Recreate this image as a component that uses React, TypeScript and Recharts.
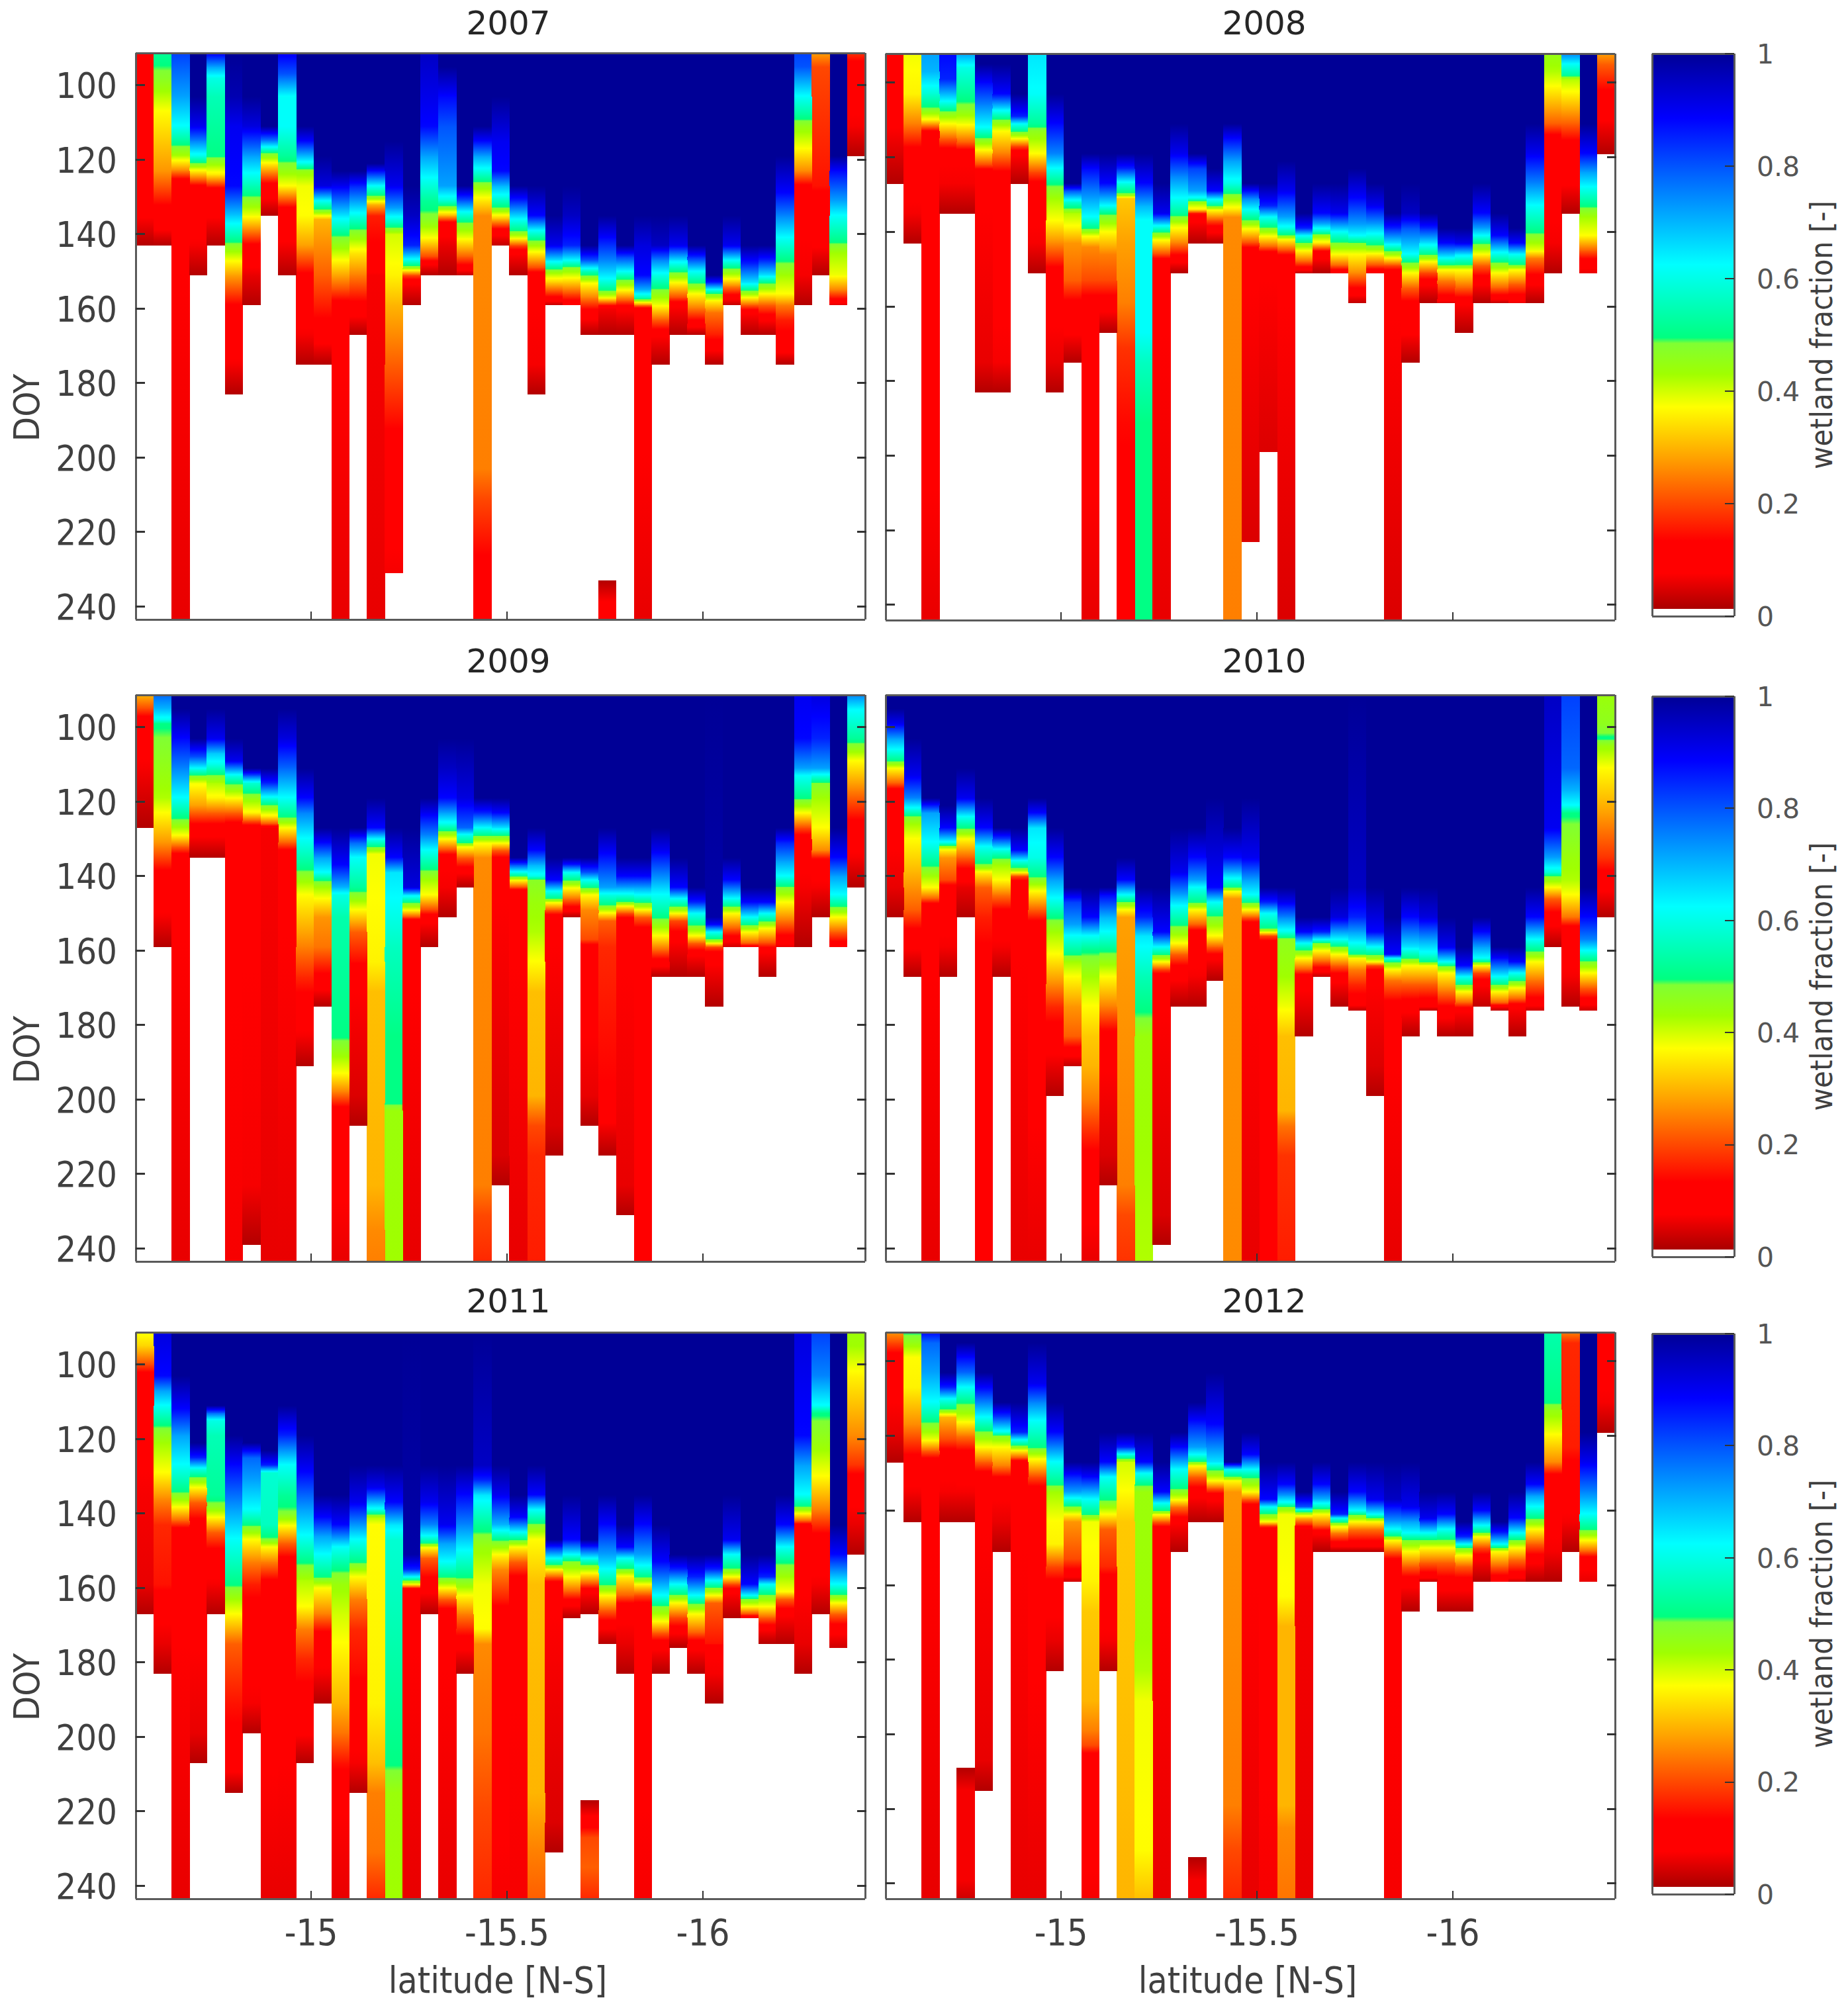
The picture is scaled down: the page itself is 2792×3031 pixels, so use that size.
import React from 'react';
import { BarChart, Bar, Cell, XAxis, YAxis, Label } from 'recharts';

// column centres, degrees latitude
const latitudes = [
  -14.575, -14.62, -14.666, -14.711, -14.756, -14.802, -14.847, -14.893, -14.938, -14.983, -15.029,
  -15.074, -15.12, -15.165, -15.21, -15.256, -15.301, -15.347, -15.392, -15.437, -15.483, -15.528,
  -15.574, -15.619, -15.664, -15.71, -15.755, -15.801, -15.846, -15.891, -15.937, -15.982, -16.028,
  -16.073, -16.118, -16.164, -16.209, -16.255, -16.3, -16.345, -16.391,
];
const doyTicks = [100, 120, 140, 160, 180, 200, 220, 240];
const latTicks = [-15, -15.5, -16];
const fractionTicks = [0, 0.2, 0.4, 0.6, 0.8, 1];

// each column: doy, fraction, doy, fraction ... read top to bottom.
// fraction is 1 above the first pair, nothing below the last, -1 marks a gap
const wet2007 = [
  [91,.12,135,.08,143,.02],
  [91,.52,98,.47,107,.37,123,.27,133,.12,137,.1,143,.02],
  [91,.82,103,.72,111,.62,115,.52,119,.42,123,.25,126,.08,244,.06],
  [103,1,111,.9,115,.75,119,.6,122,.42,127,.12,143,.07,151,.02],
  [91,.9,95,.72,98,.6,103,.55,119,.5,124,.35,128,.1,135,.08,143,.02],
  [103,.97,111,.9,127,.88,135,.68,143,.47,151,.28,159,.13,175,.07,183,.02],
  [103,1,111,.92,119,.72,127,.55,135,.38,143,.12,151,.06,159,.02],
  [111,1,115,.75,118,.5,121,.36,127,.1,131,.07,135,.02],
  [91,.9,97,.8,103,.62,111,.62,119,.52,127,.37,133,.12,143,.07,151,.02],
  [111,1,115,.88,121,.6,123,.45,127,.38,135,.37,143,.28,151,.12,167,.07,175,.02],
  [119,1,127,.92,131,.62,134,.45,136,.3,151,.22,167,.1,175,.02],
  [123,1,127,.9,135,.65,140,.5,147,.37,155,.2,160,.08,244,.06],
  [123,1,127,.85,135,.6,139,.48,145,.35,151,.25,160,.1,167,.02],
  [121,1,123,.88,127,.62,130,.47,132,.3,135,.16,143,.13,151,.07,244,.06],
  [115,1,127,.9,133,.72,137,.55,140,.4,151,.36,159,.3,175,.22,191,.14,199,.1,231,.07],
  [127,1,135,.95,143,.85,147,.6,149,.45,151,.2,153,.08,159,.02],
  [91,.95,111,.88,119,.72,125,.62,131,.52,136,.47,141,.37,146,.2,148,.08,151,.02],
  [95,1,103,.88,111,.8,127,.72,131,.58,133,.45,135,.3,137,.1,143,.06,151,.02],
  [127,1,131,.8,134,.62,137,.48,141,.38,146,.22,149,.1,151,.03],
  [111,1,115,.88,119,.72,123,.6,127,.45,131,.35,135,.26,203,.25,211,.2,227,.13,244,.09],
  [103,1,115,.9,123,.88,127,.7,130,.6,133,.48,136,.3,139,.1,143,.03],
  [127,1,131,.85,136,.62,139,.5,141,.38,143,.2,145,.08,151,.02],
  [127,1,135,.88,139,.62,142,.47,145,.36,149,.2,151,.08,175,.07,183,.02],
  [135,1,143,.9,147,.65,150,.45,153,.32,157,.12,159,.03],
  [127,1,135,.95,143,.85,147,.62,149,.47,152,.36,156,.2,159,.08],
  [143,1,147,.8,150,.55,153,.38,157,.25,161,.1,167,.02],
  [135,1,141,.88,147,.75,152,.62,155,.5,157,.38,159,.15,160,.07,167,.02,233,-1,233,.02,239,.08,244,.08],
  [143,1,146,.82,150,.62,152,.5,155,.37,158,.2,160,.08,167,.02],
  [135,1,143,.92,151,.88,155,.7,157,.55,158,.42,159,.25,160,.09,244,.06],
  [135,1,143,.95,147,.75,151,.6,155,.48,159,.38,163,.22,167,.08,175,.02],
  [135,1,143,.9,147,.65,150,.5,153,.37,157,.2,159,.08,167,.02],
  [143,1,146,.85,150,.62,153,.5,156,.37,160,.24,164,.1,167,.02],
  [151,1,153,.85,155,.6,156,.48,158,.36,161,.24,167,.16,171,.08,175,.02],
  [135,1,143,.9,147,.62,149,.5,152,.37,154,.25,157,.09,159,.03],
  [143,1,148,.85,153,.65,155,.5,157,.37,159,.22,161,.08,167,.02],
  [143,1,147,.85,151,.65,153,.5,156,.37,159,.22,163,.08,167,.02],
  [119,1,129,.88,135,.75,141,.62,147,.5,151,.43,156,.37,159,.25,163,.16,171,.09,175,.02],
  [91,.82,95,.8,103,.62,108,.52,111,.45,117,.37,123,.26,127,.12,135,.08,151,.07,159,.02],
  [91,.28,95,.2,127,.15,131,.1,143,.08,151,.02],
  [119,1,123,.88,131,.72,135,.62,142,.5,145,.43,151,.38,155,.25,158,.1,159,.05],
  [91,.18,95,.1,111,.07,119,.02],
];

const wet2008 = [
  [91,.12,111,.08,127,.02],
  [91,.38,103,.36,111,.25,119,.1,135,.07,143,.02],
  [91,.72,97,.7,103,.58,107,.48,110,.36,113,.12,244,.06],
  [91,.88,99,.85,105,.62,108,.47,111,.37,115,.22,119,.08,127,.07,135,.02],
  [91,.72,96,.6,103,.52,107,.47,111,.38,116,.22,119,.08,127,.07,135,.02],
  [95,1,100,.88,106,.75,112,.62,115,.48,118,.37,122,.2,124,.08,175,.06,183,.02],
  [95,1,103,.88,107,.65,110,.48,113,.37,119,.25,125,.1,175,.07,183,.02],
  [103,1,109,.85,111,.62,113,.5,115,.37,117,.2,119,.08,127,.02],
  [91,.65,103,.62,111,.52,113,.46,119,.37,124,.2,128,.09,143,.07,151,.02],
  [103,1,111,.88,119,.75,123,.62,127,.5,131,.43,137,.37,143,.26,151,.1,175,.06,183,.02],
  [127,1,129,.8,132,.58,135,.42,139,.36,143,.27,153,.22,159,.12,167,.08,175,.02],
  [119,1,123,.88,131,.72,136,.62,139,.5,141,.38,144,.26,153,.2,159,.1,244,.06],
  [119,1,127,.88,133,.62,135,.5,140,.37,146,.25,153,.2,159,.1,167,.02],
  [119,1,123,.85,127,.6,130,.47,131,.32,143,.28,159,.25,171,.18,191,.14,244,.09],
  [119,1,127,.88,133,.7,137,.62,167,.62,175,.56,191,.5,244,.5],
  [127,1,135,.9,138,.65,140,.5,142,.38,146,.2,148,.08,244,.06],
  [111,1,119,.9,125,.75,131,.62,135,.52,138,.4,143,.25,147,.1,151,.02],
  [119,1,123,.82,129,.72,131,.6,132,.45,134,.35,135,.15,137,.08,143,.02],
  [123,1,129,.88,131,.65,133,.5,134,.38,137,.2,139,.1,143,.02],
  [111,1,115,.88,121,.72,127,.6,130,.48,134,.35,136,.26,244,.25],
  [127,1,131,.75,134,.62,137,.48,139,.38,143,.2,145,.08,223,.05],
  [127,1,133,.85,136,.62,139,.48,141,.38,144,.22,146,.08,199,.05],
  [121,1,129,.9,136,.72,139,.6,141,.48,142,.37,145,.2,147,.08,244,.05],
  [135,1,139,.85,141,.62,143,.48,145,.37,148,.22,150,.09,151,.03],
  [127,1,135,.88,138,.7,140,.55,141,.45,143,.35,145,.14,147,.08,151,.02],
  [127,1,135,.9,140,.62,143,.48,146,.37,149,.22,151,.06],
  [123,1,131,.88,138,.72,141,.62,143,.48,146,.37,151,.26,156,.1,159,.03],
  [127,1,133,.9,138,.72,141,.6,144,.47,146,.36,149,.2,151,.06],
  [135,1,139,.85,143,.65,145,.5,147,.37,149,.2,151,.08,244,.05],
  [127,1,135,.95,139,.8,146,.62,148,.5,151,.37,155,.22,159,.12,167,.08,175,.02],
  [135,1,139,.85,143,.65,146,.5,148,.37,151,.2,154,.08,159,.02],
  [139,1,143,.88,147,.62,149,.48,150,.38,153,.25,158,.1,159,.05],
  [139,1,143,.9,146,.65,149,.48,150,.38,155,.22,159,.08,167,.02],
  [127,1,135,.88,139,.72,141,.62,143,.5,146,.37,149,.22,153,.09,159,.02],
  [135,1,141,.88,145,.65,148,.5,151,.37,155,.22,158,.08,159,.03],
  [139,1,143,.88,146,.62,149,.48,150,.38,154,.22,159,.06],
  [111,1,119,.9,127,.75,133,.62,140,.5,145,.38,147,.25,153,.09,159,.02],
  [91,.45,97,.42,101,.37,111,.22,115,.1,143,.07,151,.02],
  [91,.75,95,.62,98,.52,99,.42,103,.36,111,.22,117,.1,127,.08,135,.02],
  [111,1,119,.88,124,.72,128,.62,133,.5,136,.43,141,.37,145,.22,148,.1,151,.06],
  [91,.28,95,.22,103,.12,111,.07,119,.02],
];

const wet2009 = [
  [91,.3,95,.2,98,.1,111,.07,127,.02],
  [91,.78,95,.7,98,.6,99,.5,119,.42,123,.37,131,.27,139,.12,151,.07,159,.02],
  [95,1,103,.88,111,.75,119,.62,125,.48,129,.37,132,.22,135,.08,244,.06],
  [103,1,108,.8,111,.62,113,.48,115,.38,121,.28,127,.1,135,.02],
  [95,1,103,.9,107,.68,110,.6,113,.48,115,.42,119,.36,123,.22,127,.1,135,.02],
  [103,1,109,.9,113,.6,115,.5,119,.37,123,.22,127,.08,244,.07],
  [111,1,113,.8,115,.58,119,.45,123,.36,125,.22,127,.08,223,.07,239,.02],
  [111,1,115,.85,119,.6,121,.48,124,.35,126,.2,127,.07,244,.06],
  [95,1,103,.92,111,.78,119,.62,124,.5,127,.37,131,.22,134,.08,244,.06],
  [111,1,119,.88,123,.75,130,.62,138,.5,141,.44,145,.37,159,.25,167,.17,175,.1,183,.07,191,.02],
  [127,1,131,.88,135,.72,139,.62,141,.5,143,.43,146,.37,151,.27,159,.24,167,.12,175,.02],
  [127,1,137,.88,143,.7,145,.6,151,.54,183,.5,187,.45,193,.37,198,.25,203,.1,244,.06],
  [127,1,131,.78,135,.62,143,.52,149,.37,155,.22,163,.14,167,.08,199,.05,207,.02],
  [119,1,127,.88,130,.62,132,.5,134,.38,163,.36,171,.31,223,.3,235,.26,244,.25],
  [127,1,135,.88,139,.65,147,.62,159,.56,183,.5,201,.5,203,.44,244,.43],
  [127,1,143,.92,145,.65,147,.5,149,.38,151,.2,152,.08,244,.06],
  [119,1,123,.9,129,.75,133,.62,138,.5,141,.43,145,.37,149,.2,151,.09,159,.02],
  [103,1,111,.95,119,.88,123,.72,126,.6,128,.48,130,.37,133,.2,135,.08,143,.07,151,.02],
  [103,1,119,.92,127,.78,129,.6,131,.5,132,.38,135,.22,139,.08,143,.02],
  [119,1,123,.85,127,.62,129,.5,131,.38,135,.26,223,.25,231,.2,244,.17],
  [119,1,123,.88,127,.65,129,.5,131,.38,133,.22,136,.08,215,.05,223,.02],
  [135,1,137,.8,139,.6,140,.5,141,.38,143,.2,144,.08,244,.06],
  [127,1,133,.88,137,.7,140,.6,141,.47,147,.44,155,.42,163,.37,171,.31,199,.3,207,.2,215,.17,244,.16],
  [135,1,141,.88,144,.62,146,.5,147,.38,149,.22,151,.08,207,.05,215,.02],
  [135,1,137,.85,139,.62,141,.5,143,.38,146,.24,149,.09,151,.02],
  [135,1,139,.8,141,.62,143,.5,145,.37,149,.26,157,.2,159,.1,199,.06,207,.02],
  [127,1,133,.9,143,.72,145,.6,148,.48,150,.36,152,.22,159,.17,199,.13,207,.07,215,.02],
  [135,1,140,.88,143,.72,145,.6,147,.48,148,.37,150,.2,152,.08,223,.06,231,.02],
  [135,1,140,.88,143,.72,145,.62,147,.5,149,.37,151,.22,155,.09,244,.08],
  [127,1,133,.9,141,.72,145,.62,151,.5,156,.37,160,.22,163,.1,167,.02],
  [135,1,143,.88,146,.62,148,.5,150,.37,152,.2,157,.08,167,.02],
  [143,1,147,.85,150,.62,153,.5,156,.37,158,.22,161,.08,167,.02],
  [151,.98,153,.88,155,.62,157,.48,158,.37,159,.2,161,.09,175,.02],
  [135,1,141,.88,146,.62,148,.5,150,.37,154,.22,157,.09,159,.04],
  [143,1,147,.88,151,.62,153,.5,155,.37,158,.22,159,.08],
  [143,1,147,.88,150,.62,152,.5,154,.37,158,.2,160,.08,167,.02],
  [127,1,131,.85,136,.72,140,.62,143,.48,147,.37,152,.24,157,.1,159,.06],
  [91,.9,103,.88,111,.72,113,.62,119,.5,123,.37,127,.2,130,.09,143,.07,159,.02],
  [91,.92,103,.85,111,.72,113,.6,115,.48,119,.43,127,.37,133,.26,135,.15,137,.09,143,.07,151,.02],
  [127,1,135,.88,140,.72,145,.62,148,.5,151,.37,155,.22,159,.08],
  [91,.75,95,.63,103,.52,109,.37,117,.25,127,.1,135,.07,143,.02],
];

const wet2010 = [
  [95,1,99,.9,103,.72,106,.62,109,.5,111,.37,115,.22,117,.1,143,.06,151,.02],
  [103,1,113,.9,119,.75,122,.6,124,.48,126,.43,130,.37,139,.3,149,.22,156,.1,159,.08,167,.02],
  [119,1,123,.72,131,.62,137,.5,140,.43,143,.37,146,.22,148,.08,244,.06],
  [121,1,127,.88,131,.6,132,.45,133,.36,135,.27,141,.2,143,.1,159,.07,167,.02],
  [111,1,119,.9,124,.62,127,.5,130,.37,135,.22,139,.1,143,.06,151,.02],
  [119,1,127,.88,132,.62,137,.48,139,.36,143,.22,151,.16,159,.13,175,.09,244,.08],
  [127,1,130,.82,133,.6,135,.5,137,.43,141,.37,145,.24,150,.1,159,.07,167,.02],
  [127,1,133,.88,136,.6,138,.47,139,.37,140,.2,142,.08,244,.06],
  [119,1,123,.88,127,.65,135,.6,140,.5,144,.37,149,.22,153,.1,244,.06],
  [127,1,135,.88,141,.72,146,.62,151,.5,155,.43,161,.37,169,.26,175,.17,183,.1,191,.06,199,.02],
  [143,1,147,.82,153,.72,156,.62,161,.5,163,.43,167,.37,175,.27,183,.22,187,.1,191,.03],
  [143,1,151,.88,156,.62,160,.5,167,.43,175,.37,183,.32,191,.3,200,.25,209,.17,218,.1,244,.06],
  [143,1,145,.88,151,.7,155,.62,160,.5,167,.37,175,.25,181,.14,189,.08,215,.05,223,.02],
  [135,1,141,.88,145,.62,147,.48,149,.37,151,.28,223,.25,231,.2,244,.18],
  [143,1,151,.85,156,.65,167,.55,179,.48,183,.44,244,.42],
  [143,1,155,.88,159,.62,161,.5,163,.37,165,.2,167,.08,231,.05,239,.02],
  [127,1,139,.9,145,.72,148,.62,153,.5,158,.37,161,.22,165,.1,175,.02],
  [127,1,135,.88,141,.72,143,.62,147,.5,149,.37,153,.22,155,.1,167,.07,175,.02],
  [119,1,143,.88,147,.62,151,.48,156,.37,159,.22,162,.08,168,.02],
  [127,1,135,.88,139,.7,141,.6,143,.5,144,.38,146,.27,244,.26],
  [119,1,135,.9,141,.72,145,.62,147,.5,149,.37,151,.22,153,.08,244,.06],
  [143,1,147,.85,150,.62,154,.5,155,.38,156,.2,158,.09,244,.08],
  [143,1,147,.9,151,.75,155,.6,157,.46,167,.43,175,.38,183,.31,203,.3,207,.24,215,.18,244,.16],
  [151,1,155,.88,158,.62,160,.48,162,.37,165,.22,167,.09,175,.06,183,.02],
  [151,1,155,.85,157,.62,158,.48,160,.37,163,.22,165,.1,167,.03],
  [143,1,151,.92,157,.62,159,.48,161,.37,164,.22,167,.09,175,.02],
  [143,.95,151,.85,155,.72,158,.62,161,.5,162,.37,165,.25,169,.17,174,.1,176,.03],
  [143,1,155,.88,159,.62,161,.5,163,.37,164,.2,166,.08,191,.05,199,.02],
  [151,1,161,.88,162,.62,163,.5,165,.37,168,.24,173,.14,178,.08,244,.06],
  [143,1,151,.88,159,.65,162,.5,164,.37,169,.22,175,.09,183,.02],
  [143,1,151,.92,157,.72,161,.6,163,.5,164,.37,169,.22,175,.08,176,.03],
  [151,1,159,.9,163,.62,164,.5,166,.37,171,.24,176,.1,183,.02],
  [159,1,164,.88,167,.62,169,.5,171,.37,174,.22,176,.08,183,.02],
  [151,1,155,.88,159,.72,162,.62,163,.5,164,.37,166,.2,169,.08,175,.03],
  [159,1,162,.88,167,.62,169,.5,171,.37,174,.22,175,.08,176,.03],
  [159,1,163,.88,166,.62,168,.5,170,.37,173,.22,175,.08,183,.02],
  [143,1,151,.88,157,.62,160,.5,163,.37,168,.24,174,.1,176,.04],
  [91,.95,127,.9,135,.72,139,.58,140,.48,143,.37,146,.22,151,.1,159,.02],
  [91,.82,111,.78,117,.7,121,.62,123,.5,135,.44,141,.42,145,.37,151,.24,154,.1,167,.07,175,.02],
  [143,1,151,.88,157,.75,160,.62,163,.48,166,.37,170,.22,174,.09,176,.04],
  [91,.44,99,.46,103,.5,105,.44,111,.37,123,.28,135,.18,141,.1,151,.02],
];

const wet2011 = [
  [91,.38,95,.33,100,.2,103,.1,135,.07,159,.06,167,.02],
  [91,.92,103,.88,107,.72,111,.62,116,.5,121,.43,129,.37,136,.26,143,.17,159,.15,165,.09,175,.06,183,.02],
  [103,1,112,.88,119,.72,127,.62,134,.5,138,.38,142,.22,144,.12,159,.08,244,.06],
  [121,1,125,.85,128,.6,130,.5,133,.37,137,.22,143,.1,199,.06,207,.02],
  [111,1,113,.78,115,.6,119,.55,135,.52,138,.47,141,.37,145,.22,151,.1,159,.07,167,.02],
  [119,1,127,.88,139,.72,147,.62,159,.5,163,.43,167,.37,175,.22,191,.15,207,.1,215,.02],
  [121,1,125,.78,131,.72,139,.62,143,.5,147,.37,153,.25,159,.16,167,.1,191,.07,199,.02],
  [123,1,127,.85,129,.58,143,.56,147,.48,149,.37,153,.25,159,.1,244,.06],
  [111,1,119,.85,127,.62,135,.52,140,.48,143,.38,148,.22,153,.1,244,.06],
  [119,1,129,.88,139,.72,146,.62,153,.5,158,.42,165,.37,171,.25,179,.17,191,.1,199,.08,207,.02],
  [135,1,141,.88,146,.72,151,.62,157,.5,160,.37,167,.25,173,.1,183,.07,191,.02],
  [135,1,143,.88,149,.62,155,.5,159,.44,167,.4,175,.37,191,.3,199,.24,207,.15,215,.08,244,.06],
  [127,1,137,.9,147,.62,153,.5,157,.37,163,.25,171,.17,183,.14,191,.1,207,.07,215,.02],
  [127,1,133,.9,139,.6,141,.42,143,.37,191,.36,207,.31,215,.25,231,.24,244,.17],
  [127,1,137,.88,143,.65,147,.58,191,.52,207,.5,215,.44,244,.43],
  [151,.98,155,.85,157,.62,158,.48,159,.37,160,.15,161,.08,244,.06],
  [127,1,137,.9,143,.75,146,.62,148,.5,149,.38,152,.22,159,.1,167,.02],
  [127,1,143,.9,148,.72,153,.62,157,.5,160,.37,163,.22,167,.08,244,.06],
  [127,1,135,.88,143,.75,150,.62,157,.5,162,.37,167,.25,171,.17,175,.09,183,.02],
  [127,.95,131,.85,135,.65,143,.52,149,.44,159,.38,171,.37,175,.26,199,.24,219,.2,244,.17],
  [127,1,135,.9,143,.7,147,.5,151,.37,155,.26,163,.16,167,.1,244,.07],
  [135,1,141,.88,145,.62,147,.5,149,.37,153,.22,159,.08,244,.07],
  [127,1,135,.88,139,.62,143,.48,147,.37,151,.35,159,.31,215,.3,231,.25,244,.22],
  [147,1,149,.85,152,.62,154,.47,155,.37,157,.22,159,.08,223,.05,231,.02],
  [135,1,147,.88,151,.62,153,.47,157,.37,161,.22,164,.09,168,.02],
  [147,1,149,.85,152,.62,154,.47,156,.37,159,.2,161,.08,167,.02,217,-1,217,.02,223,.1,227,.2,235,.22,244,.17],
  [135,1,143,.88,151,.72,155,.62,159,.5,162,.37,166,.22,170,.09,175,.02],
  [143,1,149,.88,152,.62,155,.48,157,.36,162,.22,165,.09,175,.06,183,.02],
  [135,1,143,.88,151,.72,154,.62,157,.5,159,.37,162,.2,165,.09,244,.07],
  [143,1,153,.88,162,.62,165,.48,169,.37,172,.22,175,.09,183,.02],
  [151,1,155,.85,159,.62,162,.48,164,.37,168,.2,172,.08,176,.02],
  [151,1,157,.85,162,.62,164,.5,167,.37,172,.22,175,.09,183,.02],
  [151,1,155,.85,158,.62,160,.48,162,.37,164,.22,175,.15,176,.08,183,.07,191,.02],
  [135,1,147,.9,151,.62,155,.48,157,.37,159,.2,161,.08,168,.02],
  [151,1,159,.88,162,.62,163,.48,165,.37,167,.2,168,.06],
  [151,1,157,.85,159,.62,162,.48,165,.37,168,.22,171,.08,175,.02],
  [135,1,143,.88,149,.62,153,.5,157,.43,161,.37,163,.22,167,.08,175,.02],
  [91,.92,119,.88,127,.72,135,.62,138,.5,140,.37,142,.22,143,.1,175,.06,183,.02],
  [91,.82,103,.75,111,.62,113,.5,123,.43,130,.37,139,.25,147,.1,159,.07,167,.02],
  [143,1,151,.88,159,.62,162,.48,164,.37,167,.22,171,.09,176,.04],
  [91,.44,95,.43,103,.36,119,.26,127,.18,131,.1,143,.06,151,.02],
];

const wet2012 = [
  [91,.27,95,.2,99,.1,119,.06,127,.02],
  [91,.5,95,.45,99,.37,107,.36,117,.26,127,.1,135,.07,143,.02],
  [91,.88,95,.78,103,.72,111,.62,116,.5,121,.38,124,.22,127,.08,244,.06],
  [103,1,107,.85,110,.62,113,.48,115,.3,121,.2,125,.09,135,.07,143,.02],
  [95,1,99,.88,103,.78,107,.62,111,.5,116,.38,120,.24,125,.1,135,.07,143,.02,209,-1,209,.02,215,.07,239,.07,244,.04],
  [103,1,108,.85,115,.62,119,.48,123,.37,127,.22,131,.08,207,.06,215,.02],
  [111,1,115,.82,119,.6,120,.47,123,.37,128,.25,132,.09,143,.06,151,.02],
  [111,1,119,.85,121,.62,123,.45,124,.36,126,.2,127,.08,244,.06],
  [95,1,106,.9,111,.75,116,.62,123,.5,126,.38,131,.2,135,.09,244,.06],
  [111,1,119,.88,127,.62,133,.5,135,.43,143,.37,149,.36,155,.2,159,.12,167,.08,175,.06,183,.02],
  [127,1,131,.85,135,.72,137,.6,139,.48,141,.37,143,.27,153,.2,157,.1,159,.04],
  [127,1,131,.88,137,.62,141,.5,143,.38,159,.36,167,.32,191,.3,199,.25,203,.2,206,.1,244,.07],
  [119,1,127,.88,131,.62,137,.5,141,.37,145,.22,155,.17,159,.1,175,.07,183,.02],
  [119,1,123,.85,125,.6,127,.4,135,.37,143,.32,244,.3],
  [119,1,127,.88,130,.62,133,.5,135,.44,175,.43,183,.42,191,.38,231,.37,244,.31],
  [127,1,135,.88,138,.62,140,.5,141,.38,143,.22,145,.08,244,.06],
  [119,1,123,.88,129,.62,134,.5,137,.38,139,.24,143,.08,151,.02],
  [111,1,117,.85,123,.72,125,.62,127,.48,128,.37,131,.22,135,.09,143,.02,233,-1,233,.02,239,.07,244,.07],
  [103,1,117,.88,127,.65,129,.5,132,.37,134,.22,136,.09,143,.02],
  [127,1,129,.62,131,.48,132,.37,135,.27,219,.25,231,.2,244,.17],
  [119,1,125,.88,129,.62,131,.5,135,.37,137,.22,139,.08,244,.06],
  [127,1,137,.88,139,.62,141,.48,143,.37,144,.2,145,.09,244,.07],
  [127,1,133,.88,136,.72,138,.6,139,.48,141,.38,163,.37,171,.3,219,.3,225,.26,244,.24],
  [135,1,139,.8,140,.55,141,.42,142,.3,144,.15,145,.07,244,.06],
  [127,1,133,.88,137,.7,139,.55,140,.45,141,.37,144,.22,146,.08,151,.02],
  [135,1,141,.85,142,.62,144,.4,146,.25,149,.1,151,.02],
  [127,1,135,.88,140,.62,141,.5,143,.37,145,.24,149,.1,151,.02],
  [127,1,137,.9,141,.62,142,.48,143,.37,145,.24,149,.1,151,.02],
  [127,1,137,.95,143,.72,145,.62,147,.48,148,.37,151,.22,154,.08,244,.07],
  [127,1,139,.9,143,.72,146,.62,148,.48,151,.37,155,.22,159,.09,167,.02],
  [135,1,142,.9,146,.62,148,.48,150,.37,154,.22,158,.08,159,.03],
  [135,1,141,.88,145,.62,148,.48,150,.37,154,.22,159,.1,167,.02],
  [143,1,147,.85,149,.62,150,.48,152,.37,155,.22,159,.1,167,.02],
  [135,1,140,.88,144,.62,146,.48,147,.37,150,.2,153,.08,159,.02],
  [143,1,146,.85,149,.62,150,.48,151,.37,155,.22,159,.07],
  [135,1,142,.88,146,.62,148,.48,150,.37,153,.24,158,.08,159,.04],
  [127,1,133,.88,136,.72,139,.62,142,.5,145,.37,149,.22,153,.09,159,.02],
  [91,.54,111,.5,113,.45,119,.38,127,.26,131,.1,151,.07,159,.02],
  [91,.25,95,.17,123,.16,131,.1,143,.07,151,.02],
  [119,1,127,.9,135,.75,141,.62,145,.5,148,.37,151,.22,153,.09,159,.06],
  [91,.1,111,.07,119,.02],
];

// colour scale as drawn in the colour bars
const scaleLevels = [0.013, 0.076, 0.134, 0.285, 0.372, 0.43, 0.485, 0.495, 0.625, 0.755, 0.885, 1];
const scaleColours = [
  [170, 0, 0], [255, 0, 0], [255, 0, 0], [255, 165, 0], [255, 255, 0], [160, 255, 0],
  [128, 255, 51], [0, 255, 128], [0, 255, 255], [0, 128, 255], [0, 0, 255], [0, 0, 150],
];

const FONT = '"DejaVu Sans Condensed", "DejaVu Sans", sans-serif';
const PLAIN_FONT = '"DejaVu Sans", sans-serif';
const INK = '#404040';
const FRAME = '#5a5a5a';
const TICK = '#333';
const PLOT_W = 1102;
const PLOT_H = 856;

function colourAt(v: number) {
  if (v <= scaleLevels[0]) return `rgb(${scaleColours[0].join(',')})`;
  for (let i = 1; i < scaleLevels.length; i++) {
    if (v <= scaleLevels[i]) {
      const t = (v - scaleLevels[i - 1]) / (scaleLevels[i] - scaleLevels[i - 1]);
      const c = scaleColours[i].map((x, k) => Math.round(scaleColours[i - 1][k] + (x - scaleColours[i - 1][k]) * t));
      return `rgb(${c.join(',')})`;
    }
  }
  return `rgb(${scaleColours[scaleColours.length - 1].join(',')})`;
}

// vertical gradients shared by all panels, one per pair of end values
const gradients = new Map<string, { id: string; from: number; to: number }>();

function fillFor(from: number, to: number) {
  if (from < 0 || to < 0) return 'none';
  if (from === to) return colourAt(from);
  const key = `${from}_${to}`;
  if (!gradients.has(key)) gradients.set(key, { id: `wf${gradients.size}`, from, to });
  return `url(#${gradients.get(key)!.id})`;
}

function GradientDefs() {
  return (
    <svg width={0} height={0} style={{ position: 'absolute' }}>
      <defs>
        {[...gradients.values()].map((g) => {
          const lo = Math.min(g.from, g.to);
          const hi = Math.max(g.from, g.to);
          const inner = scaleLevels.filter((l) => l > lo && l < hi);
          const vals = [g.from, ...(g.from > g.to ? [...inner].reverse() : inner), g.to];
          return (
            <linearGradient key={g.id} id={g.id} x1="0" y1="0" x2="0" y2="1">
              {vals.map((v, i) => (
                <stop key={i} offset={(v - g.from) / (g.to - g.from)} stopColor={colourAt(v)} />
              ))}
            </linearGradient>
          );
        })}
        <linearGradient id="fractionBar" x1="0" y1="0" x2="0" y2="1">
          {[...scaleLevels].reverse().map((l) => (
            <stop key={l} offset={(1 - l) / (1 - scaleLevels[0])} stopColor={colourAt(l)} />
          ))}
        </linearGradient>
      </defs>
    </svg>
  );
}

function buildColumns(columns: number[][], top: number, bottom: number) {
  const fills: string[][] = [];
  const rows = columns.map((col, i) => {
    const row: Record<string, number> = { lat: latitudes[i], base: top };
    const cellFills: string[] = [];
    let prevDoy = top;
    let prevVal = 1;
    let seg = 0;
    for (let k = 0; k < col.length; k += 2) {
      const doy = Math.min(Math.max(col[k], top), bottom);
      row[`s${seg}`] = Math.max(doy - prevDoy, 0);
      cellFills.push(fillFor(prevVal, col[k + 1]));
      prevDoy = doy;
      prevVal = col[k + 1];
      seg++;
    }
    fills.push(cellFills);
    return row;
  });
  return { rows, fills };
}

// bars run a little wide so neighbouring columns leave no white seam
function ColumnCell(p: any) {
  if (!p.height || p.fill === 'none') return null;
  const h = Math.abs(p.height);
  const y = Math.min(p.y, p.y + p.height);
  return <rect x={p.x} y={y} width={p.width + 1.5} height={h + 0.5} fill={p.fill} />;
}

const TICK_MARGIN = 28;

function DoyTick(p: any) {
  const edge = p.x + TICK_MARGIN;
  return (
    <g>
      <line x1={edge} x2={edge + 14} y1={p.y} y2={p.y} stroke={TICK} strokeWidth={3} />
      {p.showText && (
        <text x={p.x} y={p.y} dy="0.36em" textAnchor="end" fontSize={54} fill={INK} fontFamily={FONT}>
          {p.payload.value}
        </text>
      )}
    </g>
  );
}

function RightTick(p: any) {
  return <line x1={p.x - 14} x2={p.x} y1={p.y} y2={p.y} stroke={TICK} strokeWidth={3} />;
}

function LatTick(p: any) {
  const edge = p.y - TICK_MARGIN;
  return (
    <g>
      <line x1={p.x} x2={p.x} y1={edge} y2={edge - 12} stroke={TICK} strokeWidth={2} />
      {p.showText && (
        <text x={p.x} y={p.y} dy="0.76em" textAnchor="middle" fontSize={55} fill={INK} fontFamily={FONT}>
          {p.payload.value}
        </text>
      )}
    </g>
  );
}

function TopTick(p: any) {
  return <line x1={p.x} x2={p.x} y1={p.y} y2={p.y + 12} stroke={TICK} strokeWidth={2} />;
}

function FractionTick(p: any) {
  const edge = p.x - 34;
  return (
    <g>
      <line x1={edge - 14} x2={edge} y1={p.y} y2={p.y} stroke={TICK} strokeWidth={2} />
      <text x={p.x} y={p.y} dy="0.36em" textAnchor="start" fontSize={41} fill="#555" fontFamily={PLAIN_FONT}>
        {p.payload.value}
      </text>
    </g>
  );
}

type PanelProps = {
  title: string;
  columns: number[][];
  x: number;
  y: number;
  top: number;
  bottom: number;
  showDoy: boolean;
  showLat: boolean;
  titleDx: number;
  titleDy: number;
};

function Panel({ title, columns, x, y, top, bottom, showDoy, showLat, titleDx, titleDy }: PanelProps) {
  const { rows, fills } = buildColumns(columns, top, bottom);
  const segCount = Math.max(...fills.map((f) => f.length));
  const leftW = showDoy ? 205 : 10;
  const bottomH = showLat ? 160 : 40;
  const topH = 80;
  const frame = { stroke: FRAME, strokeWidth: 3 };
  const xAxisCommon = {
    type: 'number' as const,
    domain: [-16.414, -14.552],
    reversed: true,
    allowDataOverflow: true,
    ticks: latTicks,
    interval: 0 as const,
    axisLine: frame,
    tickLine: false,
    tickSize: 0,
  };
  const yAxisCommon = {
    type: 'number' as const,
    domain: [top, bottom],
    reversed: true,
    allowDataOverflow: true,
    ticks: doyTicks,
    interval: 0 as const,
    axisLine: frame,
    tickLine: false,
    tickSize: 0,
  };
  return (
    <div style={{ position: 'absolute', left: x - leftW, top: y - topH }}>
      <BarChart
        width={leftW + PLOT_W + 10}
        height={topH + PLOT_H + bottomH}
        data={rows}
        margin={{ top: 0, right: 0, bottom: 0, left: 0 }}
        barSize={26}
        barGap={0}
        style={{ shapeRendering: 'crispEdges' }}
      >
        <Bar dataKey="base" stackId="a" fill="none" isAnimationActive={false} />
        {Array.from({ length: segCount }, (_, s) => (
          <Bar key={s} dataKey={`s${s}`} stackId="a" isAnimationActive={false} shape={ColumnCell}>
            {rows.map((_r, i) => (
              <Cell key={i} fill={fills[i][s] ?? 'none'} />
            ))}
          </Bar>
        ))}
        <XAxis
          {...xAxisCommon}
          dataKey="lat"
          height={bottomH}
          tick={(p: any) => <LatTick {...p} showText={showLat} />}
          tickMargin={TICK_MARGIN}
        >
          {showLat && (
            <Label
              value="latitude [N-S]"
              position="insideBottom"
              offset={18}
              dx={-4}
              style={{ fontSize: 55, fill: INK, fontFamily: FONT }}
            />
          )}
        </XAxis>
        <XAxis {...xAxisCommon} xAxisId="top" orientation="top" height={topH} tick={(p: any) => <TopTick {...p} />}>
          <Label
            value={title}
            position="insideTop"
            offset={18}
            dx={titleDx}
            dy={titleDy}
            style={{ fontSize: 50, fill: '#262626', fontFamily: PLAIN_FONT }}
          />
        </XAxis>
        <YAxis
          {...yAxisCommon}
          width={leftW}
          tick={(p: any) => <DoyTick {...p} showText={showDoy} />}
          tickMargin={TICK_MARGIN}
        >
          {showDoy && (
            <Label
              value="DOY"
              angle={-90}
              position="insideLeft"
              offset={40}
              dy={108}
              style={{ fontSize: 54, fill: INK, fontFamily: FONT, textAnchor: 'middle' }}
            />
          )}
        </YAxis>
        <YAxis {...yAxisCommon} yAxisId="right" orientation="right" width={10} tick={(p: any) => <RightTick {...p} />} />
      </BarChart>
    </div>
  );
}

const fractionRows = [{ name: 'wetland', none: scaleLevels[0], colour: 1 - scaleLevels[0] }];

function FractionBar({ y, height }: { y: number; height: number }) {
  const frame = { stroke: FRAME, strokeWidth: 3 };
  return (
    <div style={{ position: 'absolute', left: 2493, top: y - 41 }}>
      <BarChart
        width={299}
        height={height + 82}
        data={fractionRows}
        margin={{ top: 40, right: 0, bottom: 40, left: 2 }}
        barCategoryGap={0}
        style={{ shapeRendering: 'crispEdges' }}
      >
        <Bar dataKey="none" stackId="a" fill="none" isAnimationActive={false} />
        <Bar dataKey="colour" stackId="a" fill="url(#fractionBar)" isAnimationActive={false} />
        <XAxis dataKey="name" height={1} tick={false} tickLine={false} axisLine={frame} />
        <XAxis xAxisId="top" orientation="top" height={1} tick={false} tickLine={false} axisLine={frame} />
        <YAxis yAxisId="left" width={1} domain={[0, 1]} tick={false} tickLine={false} axisLine={frame} />
        <YAxis
          orientation="right"
          width={172}
          domain={[0, 1]}
          ticks={fractionTicks}
          interval={0}
          axisLine={frame}
          tickLine={false}
          tickSize={0}
          tickMargin={34}
          tick={(p: any) => <FractionTick {...p} />}
        >
          <Label
            value="wetland fraction [-]"
            angle={-90}
            position="insideRight"
            offset={41}
            style={{ fontSize: 47, fill: INK, fontFamily: FONT, textAnchor: 'middle' }}
          />
        </YAxis>
      </BarChart>
    </div>
  );
}

export default function App() {
  // fills the gradient list before the defs render
  [wet2007, wet2008, wet2009, wet2010, wet2011, wet2012].forEach((c) => buildColumns(c, 91, 244));
  return (
    <div style={{ position: 'absolute', left: 0, top: 0, width: 2792, height: 3031, background: '#fff', overflow: 'hidden' }}>
      <GradientDefs />
      <Panel title="2007" columns={wet2007} x={205} y={80} top={91.3} bottom={243.5} showDoy showLat={false} titleDx={12} titleDy={-2} />
      <Panel title="2008" columns={wet2008} x={1338} y={81} top={92.2} bottom={244.1} showDoy={false} showLat={false} titleDx={21} titleDy={-3} />
      <Panel title="2009" columns={wet2009} x={205} y={1050} top={91.3} bottom={243.5} showDoy showLat={false} titleDx={12} titleDy={-8} />
      <Panel title="2010" columns={wet2010} x={1338} y={1050} top={91.3} bottom={243.5} showDoy={false} showLat={false} titleDx={21} titleDy={-8} />
      <Panel title="2011" columns={wet2011} x={205} y={2013} top={91.3} bottom={243.5} showDoy showLat titleDx={12} titleDy={-4} />
      <Panel title="2012" columns={wet2012} x={1338} y={2013} top={92.2} bottom={244.1} showDoy={false} showLat titleDx={21} titleDy={-4} />
      <FractionBar y={81} height={850} />
      <FractionBar y={1052} height={847} />
      <FractionBar y={2015} height={847} />
    </div>
  );
}
